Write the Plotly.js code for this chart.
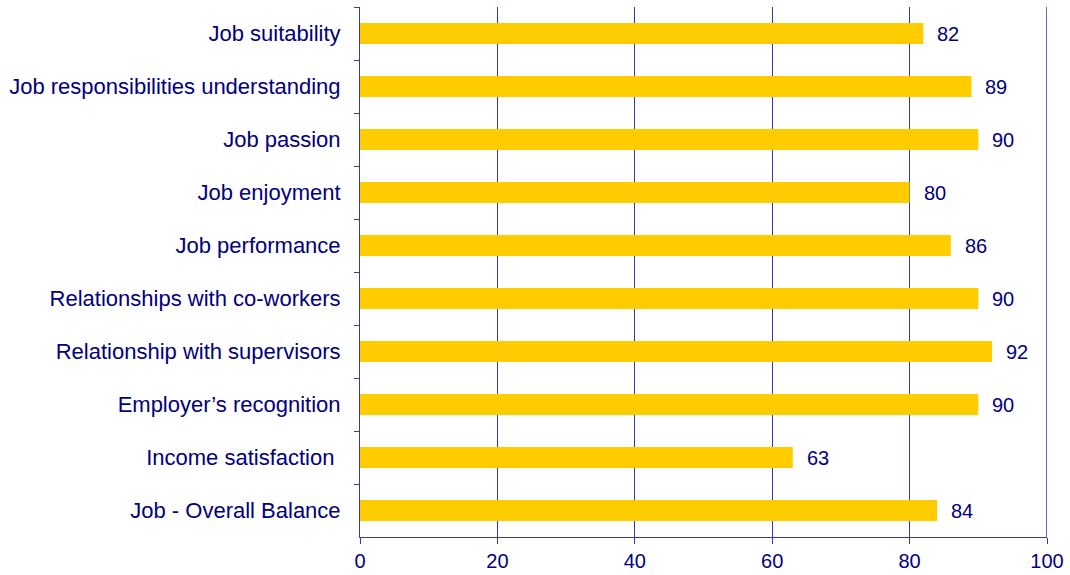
<!DOCTYPE html>
<html>
<head>
<meta charset="utf-8">
<script src="https://cdn.plot.ly/plotly-3.0.1.min.js"></script>
<style>html,body{margin:0;padding:0;background:#fff;}#chart{width:1070px;height:575px;}</style>
</head>
<body>
<div id="chart"></div>
<script>
var categories = [
  "Job suitability",
  "Job responsibilities understanding",
  "Job passion",
  "Job enjoyment",
  "Job performance",
  "Relationships with co-workers",
  "Relationship with supervisors",
  "Employer\u2019s recognition",
  "Income satisfaction ",
  "Job - Overall Balance"
];
var values = [82, 89, 90, 80, 86, 90, 92, 90, 63, 84];
var xTicks = [0, 20, 40, 60, 80, 100];

var navy = "#000080";
var lineCol = "#3a3a9e";
var fam = "Liberation Sans, Arial, sans-serif";
var font = {family: fam, size: 20, color: navy};
var yFont = {family: fam, size: 22, color: navy};

var trace = {
  type: "bar",
  orientation: "h",
  y: categories,
  x: values,
  marker: {color: "#FFCC00", line: {width: 0}},
  hoverinfo: "none"
};

var annotations = categories.map(function (c, i) {
  return {
    x: values[i], y: c, xref: "x", yref: "y",
    text: String(values[i]), showarrow: false,
    xanchor: "left", xshift: 12, font: font
  };
});

var layout = {
  width: 1070, height: 575,
  margin: {l: 360, r: 23, t: 7, b: 38, pad: 0},
  paper_bgcolor: "#fff", plot_bgcolor: "#fff",
  font: font,
  bargap: 0.6,
  showlegend: false,
  xaxis: {
    range: [0, 100],
    tickvals: xTicks,
    ticktext: xTicks.map(String),
    ticks: "outside", ticklen: 6, tickcolor: lineCol,
    showline: true, linecolor: lineCol, linewidth: 1,
    showgrid: true, gridcolor: lineCol, gridwidth: 1,
    zeroline: false,
    tickfont: font
  },
  yaxis: {
    type: "category",
    autorange: "reversed",
    ticks: "outside", ticklen: 5, tickcolor: lineCol,
    tickson: "boundaries",
    showline: true, linecolor: lineCol, linewidth: 1,
    showgrid: false, zeroline: false,
    ticklabelstandoff: 14,
    tickfont: yFont
  },
  shapes: [{
    type: "line", xref: "x", yref: "paper",
    x0: xTicks[xTicks.length - 1], x1: xTicks[xTicks.length - 1], y0: 0, y1: 1,
    line: {color: lineCol, width: 1.5}
  }],
  annotations: annotations
};

Plotly.newPlot("chart", [trace], layout, {displayModeBar: false, staticPlot: true});
</script>
</body>
</html>
